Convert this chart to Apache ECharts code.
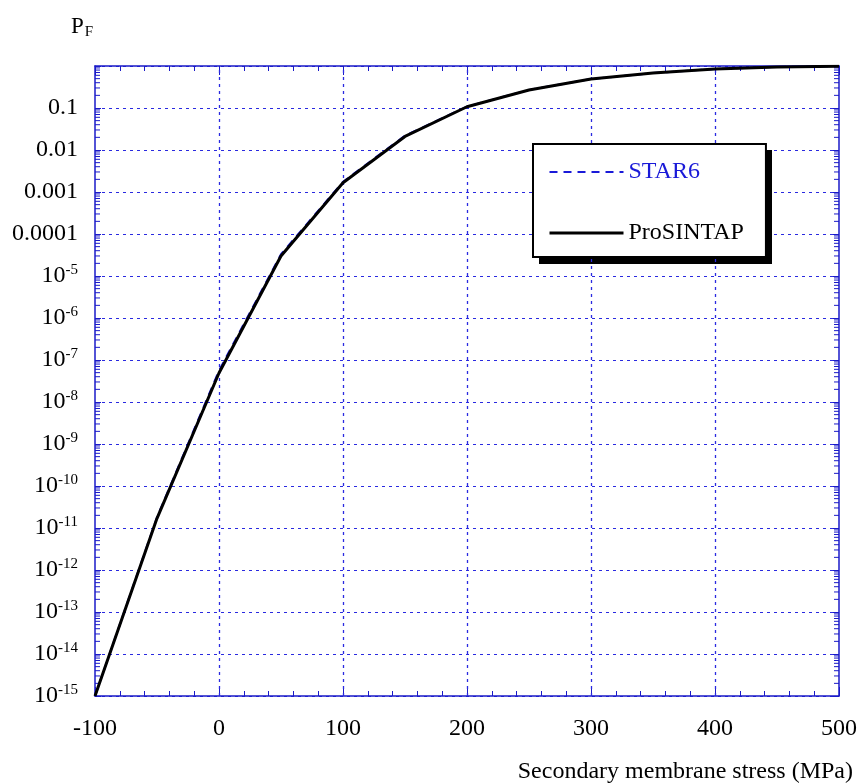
<!DOCTYPE html>
<html>
<head>
<meta charset="utf-8">
<script src="https://cdn.jsdelivr.net/npm/echarts@6/dist/echarts.min.js"></script>
<style>
	html, body { margin: 0; padding: 0; background: #fff; }
	#chart { width: 862px; height: 784px; }
</style>
</head>
<body>
<div id="chart"></div>
<script>
var stress = [ -100, -50, 0, 50, 100, 150, 200, 250, 300, 350, 400, 450, 500 ];
var star6 = [ 1e-15, 1.8e-11, 5.6e-8, 3.3e-5, 1.75e-3, 0.022, 0.108, 0.27, 0.49, 0.68, 0.85, 0.95, 0.99 ];
var prosintap = [ 1e-15, 1.7e-11, 4.9e-8, 3.0e-5, 1.66e-3, 0.021, 0.107, 0.268, 0.49, 0.68, 0.85, 0.95, 0.99 ];
var xGrid = [ 0, 100, 200, 300, 400 ];
var decimalLabels = { '-1' : '0.1', '-2' : '0.01', '-3' : '0.001', '-4' : '0.0001' };

var blue = '#1a1ac8';
var gridBlue = '#2a2ae0';
var lineBlue = '#1a1ad8';
var serif = 'Liberation Serif';

var pairs = function(ys) {
	var out = [];
	for (var i = 0; i < stress.length; i++) {
		out.push([ stress[i], ys[i] ]);
	}
	return out;
};

// minor ticks of the log axis: 2..9 in each decade
var minorY = [];
for (var d = -15; d < 0; d++) {
	for (var k = 2; k <= 9; k++) {
		minorY.push([ -100, k * Math.pow(10, d) ]);
	}
}

var yLabel = function(v) {
	var e = Math.round(Math.log10(v));
	if (e >= 0) return '';
	if (decimalLabels[e]) return '{a|' + decimalLabels[e] + '}';
	return '{a|10}{s|' + e + '}';
};

var chart = echarts.init(document.getElementById('chart'));
var option = {
	animation : false,
	backgroundColor : '#fff',
	textStyle : { fontFamily : serif },
	title : [ {
		text : '{p|P}{f|F}',
		left : 66,
		top : 9,
		textStyle : {
			fontWeight : 'normal',
			rich : {
				p : { fontFamily : serif, fontSize : 23, fontWeight : 'normal', color : '#000', lineHeight : 26 },
				f : { fontFamily : serif, fontSize : 15, fontWeight : 'normal', color : '#000', verticalAlign : 'bottom', lineHeight : 10, padding : [ 16, 0, 0, 1 ] }
			}
		}
	}, {
		text : 'Secondary membrane stress (MPa)',
		right : 4,
		top : 755,
		textStyle : { fontFamily : serif, fontSize : 24, fontWeight : 'normal', color : '#000' }
	} ],
	grid : {
		left : 95,
		right : 23,
		top : 66,
		bottom : 88
	},
	graphic : [ {
		type : 'rect',
		z : 1,
		silent : true,
		shape : { x : 539, y : 150, width : 233, height : 114 },
		style : { fill : '#000' }
	} ],
	legend : {
		orient : 'vertical',
		left : 533,
		top : 144,
		z : 5,
		data : [ {
			name : 'STAR6',
			textStyle : { color : lineBlue },
			lineStyle : { color : lineBlue, width : 2, type : [ 8, 6 ] }
		}, {
			name : 'ProSINTAP',
			textStyle : { color : '#000' },
			lineStyle : { color : '#000', width : 3 }
		} ],
		itemWidth : 74,
		itemHeight : 22,
		itemGap : 37,
		padding : [ 16, 22, 12, 15 ],
		backgroundColor : '#fff',
		borderColor : '#000',
		borderWidth : 2,
		itemStyle : { opacity : 0 },
		textStyle : { fontFamily : serif, fontSize : 24, lineHeight : 22 },
		selectedMode : false
	},
	xAxis : [ {
		type : 'value',
		min : -100,
		max : 500,
		interval : 100,
		axisLine : { onZero : false, lineStyle : { color : blue, width : 1.5 } },
		axisTick : { inside : true, length : 9, lineStyle : { color : blue } },
		minorTick : { show : true, splitNumber : 5, length : 5, lineStyle : { color : blue } },
		axisLabel : { margin : 21, fontFamily : serif, fontSize : 24, color : '#000' },
		splitLine : { show : false }
	}, {
		type : 'value',
		position : 'top',
		min : -100,
		max : 500,
		interval : 100,
		axisLine : { onZero : false, lineStyle : { color : blue, width : 1.5 } },
		axisTick : { inside : true, length : 9, lineStyle : { color : blue } },
		minorTick : { show : true, splitNumber : 5, length : 5, lineStyle : { color : blue } },
		axisLabel : { show : false },
		splitLine : { show : false }
	} ],
	yAxis : [ {
		type : 'log',
		logBase : 10,
		min : 1e-15,
		max : 1,
		interval : 1,
		axisLine : { show : true, onZero : false, lineStyle : { color : blue, width : 1.5 } },
		axisTick : { inside : true, length : 6, lineStyle : { color : blue } },
		axisLabel : {
			margin : 17,
			formatter : yLabel,
			rich : {
				a : { fontFamily : serif, fontSize : 24, color : '#000', lineHeight : 26 },
				s : { fontFamily : serif, fontSize : 15, color : '#000', verticalAlign : 'top', lineHeight : 26, padding : [ 0, 0, 13, 0 ] }
			}
		},
		splitLine : { show : true, lineStyle : { color : gridBlue, type : [ 3, 4 ], width : 1 } }
	}, {
		type : 'log',
		logBase : 10,
		position : 'right',
		min : 1e-15,
		max : 1,
		interval : 1,
		axisLine : { show : true, onZero : false, lineStyle : { color : blue, width : 1.5 } },
		axisTick : { inside : true, length : 6, lineStyle : { color : blue } },
		axisLabel : { show : false },
		splitLine : { show : false }
	} ],
	series : [ {
		name : 'gridX',
		type : 'custom',
		silent : true,
		z : 1,
		data : xGrid.map(function(x) { return [ x, 1 ]; }),
		renderItem : function(params, api) {
			var x = api.value(0);
			var b = api.coord([ x, 1e-15 ]);
			var t = api.coord([ x, 1 ]);
			var px = Math.round(b[0]) + 0.5;
			return {
				type : 'line',
				shape : { x1 : px, y1 : b[1], x2 : px, y2 : t[1] },
				style : { stroke : gridBlue, lineWidth : 1.3, lineDash : [ 3, 4 ] }
			};
		}
	}, {
		name : 'minorY',
		type : 'custom',
		silent : true,
		clip : false,
		data : minorY,
		renderItem : function(params, api) {
			var v = api.value(1);
			var l = api.coord([ -100, v ]);
			var r = api.coord([ 500, v ]);
			return {
				type : 'group',
				children : [ {
					type : 'line',
					shape : { x1 : l[0], y1 : l[1], x2 : l[0] + 5, y2 : l[1] },
					style : { stroke : blue, lineWidth : 1 }
				}, {
					type : 'line',
					shape : { x1 : r[0], y1 : r[1], x2 : r[0] - 5, y2 : r[1] },
					style : { stroke : blue, lineWidth : 1 }
				} ]
			};
		}
	}, {
		name : 'STAR6',
		type : 'line',
		data : pairs(star6),
		showSymbol : false,
		symbol : 'none',
		lineStyle : { color : lineBlue, width : 2, type : [ 8, 6 ] },
		itemStyle : { color : lineBlue }
	}, {
		name : 'ProSINTAP',
		type : 'line',
		data : pairs(prosintap),
		showSymbol : false,
		symbol : 'none',
		lineStyle : { color : '#000', width : 3 },
		itemStyle : { color : '#000' }
	} ]
};
chart.setOption(option);
</script>
</body>
</html>
